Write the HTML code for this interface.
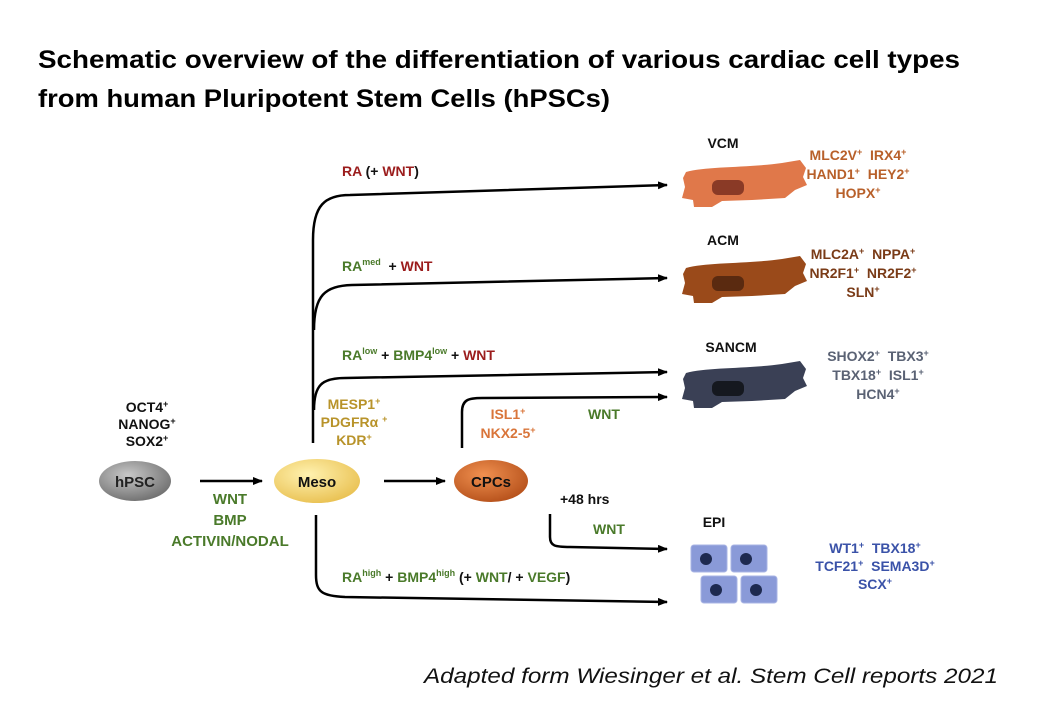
<!DOCTYPE html>
<html><head><meta charset="utf-8"><style>
html,body{margin:0;padding:0;background:#fff;}
svg{display:block;font-family:"Liberation Sans",Arial,sans-serif;font-weight:bold;}
</style></head><body>
<svg width="1058" height="720" viewBox="0 0 1058 720" xmlns="http://www.w3.org/2000/svg">
<defs>
<marker id="ar" markerWidth="10" markerHeight="8" refX="9" refY="4" orient="auto" markerUnits="userSpaceOnUse"><path d="M0,0 L10,4 L0,8 Z" fill="#000"/></marker>
<path id="cell" d="M4,12 C25,6 65,8 100,3 L118,0 L124,8 L121,17 L125,25 L113,30 L103,38 L70,40 L40,41 L30,47 L12,47 L11,40 L0,38 L3,27 L1,18 Z"/>
<radialGradient id="gg" cx="40%" cy="35%" r="70%"><stop offset="0" stop-color="#c8c8c8"/><stop offset="1" stop-color="#6e6e6e"/></radialGradient>
<radialGradient id="gy" cx="40%" cy="35%" r="70%"><stop offset="0" stop-color="#fff2b0"/><stop offset="1" stop-color="#e9c050"/></radialGradient>
<radialGradient id="go" cx="40%" cy="35%" r="70%"><stop offset="0" stop-color="#f09050"/><stop offset="1" stop-color="#b5501a"/></radialGradient>
</defs>
<text x="38" y="68" font-size="25" textLength="922" lengthAdjust="spacingAndGlyphs">Schematic overview of the differentiation of various cardiac cell types</text>
<text x="38" y="107" font-size="25" textLength="572" lengthAdjust="spacingAndGlyphs">from human Pluripotent Stem Cells (hPSCs)</text>

<g fill="none" stroke="#000" stroke-width="2.5">
<path d="M200,481 L262,481" marker-end="url(#ar)"/>
<path d="M384,481 L445,481" marker-end="url(#ar)"/>
<path d="M313,443 L313,240 C313,205 325,195 350,195 L667,185" marker-end="url(#ar)"/>
<path d="M314,330 C314,295 325,286 352,285 L667,278" marker-end="url(#ar)"/>
<path d="M314,410 C314,385 322,378 345,378 L667,372" marker-end="url(#ar)"/>
<path d="M462,448 L462,412 C462,400 468,398 482,398 L667,397" marker-end="url(#ar)"/>
<path d="M316,515 L316,575 C316,592 322,596 345,597 L667,602" marker-end="url(#ar)"/>
<path d="M550,514 L550,537 C550,546 555,547 570,547 L667,549" marker-end="url(#ar)"/>
</g>

<ellipse cx="135" cy="481" rx="36" ry="20" fill="url(#gg)"/>
<text x="135" y="487" font-size="15" text-anchor="middle" fill="#222">hPSC</text>
<ellipse cx="317" cy="481" rx="43" ry="22" fill="url(#gy)"/>
<text x="317" y="487" font-size="15" text-anchor="middle" fill="#111">Meso</text>
<ellipse cx="491" cy="481" rx="37" ry="21" fill="url(#go)"/>
<text x="491" y="487" font-size="15" text-anchor="middle" fill="#111">CPCs</text>

<g font-size="14" text-anchor="middle">
<text x="147" y="412" fill="#111">OCT4<tspan font-size="9" dy="-5">+</tspan></text>
<text x="147" y="429" fill="#111">NANOG<tspan font-size="9" dy="-5">+</tspan></text>
<text x="147" y="446" fill="#111">SOX2<tspan font-size="9" dy="-5">+</tspan></text>
<text x="230" y="504" fill="#4a7a2a" font-size="15">WNT</text>
<text x="230" y="525" fill="#4a7a2a" font-size="15">BMP</text>
<text x="230" y="546" fill="#4a7a2a" font-size="15">ACTIVIN/NODAL</text>
<text x="354" y="409" fill="#b8932a">MESP1<tspan font-size="9" dy="-5">+</tspan></text>
<text x="354" y="427" fill="#b8932a">PDGFRα&#160;<tspan font-size="9" dy="-5">+</tspan></text>
<text x="354" y="445" fill="#b8932a">KDR<tspan font-size="9" dy="-5">+</tspan></text>
<text x="508" y="419" fill="#d9753a">ISL1<tspan font-size="9" dy="-5">+</tspan></text>
<text x="508" y="438" fill="#d9753a">NKX2-5<tspan font-size="9" dy="-5">+</tspan></text>
</g>
<g font-size="14">
<text x="342" y="176" fill="#9b1c1c">RA <tspan fill="#111">(+ </tspan>WNT<tspan fill="#111">)</tspan></text>
<text x="342" y="271" fill="#4a7a2a">RA<tspan font-size="9" dy="-6">med</tspan><tspan fill="#111" dy="6">&#160;&#160;+ </tspan><tspan fill="#9b1c1c">WNT</tspan></text>
<text x="342" y="360" fill="#4a7a2a">RA<tspan font-size="9" dy="-6">low</tspan><tspan fill="#111" dy="6"> + </tspan>BMP4<tspan font-size="9" dy="-6">low</tspan><tspan fill="#111" dy="6"> + </tspan><tspan fill="#9b1c1c">WNT</tspan></text>
<text x="588" y="419" fill="#4a7a2a">WNT</text>
<text x="560" y="504" fill="#111">+48 hrs</text>
<text x="593" y="534" fill="#4a7a2a">WNT</text>
<text x="342" y="582" fill="#4a7a2a">RA<tspan font-size="9" dy="-6">high</tspan><tspan fill="#111" dy="6"> + </tspan>BMP4<tspan font-size="9" dy="-6">high</tspan><tspan fill="#111" dy="6"> (+ </tspan>WNT<tspan fill="#111">/ + </tspan>VEGF<tspan fill="#111">)</tspan></text>
</g>

<g font-size="14" text-anchor="middle" fill="#111">
<text x="723" y="148">VCM</text>
<text x="723" y="245">ACM</text>
<text x="731" y="352">SANCM</text>
<text x="714" y="527">EPI</text>
</g>
<use href="#cell" transform="translate(682,160)" fill="#e0784a"/>
<rect x="712" y="180" width="32" height="15" rx="6" fill="#8a3a26"/>
<use href="#cell" transform="translate(682,256)" fill="#9a4a1a"/>
<rect x="712" y="276" width="32" height="15" rx="6" fill="#5a2a10"/>
<use href="#cell" transform="translate(682,361)" fill="#3a4055"/>
<rect x="712" y="381" width="32" height="15" rx="6" fill="#15181f"/>

<g fill="#8a9ad8" stroke="#a8b4e4" stroke-width="1">
<rect x="691" y="545" width="36" height="27" rx="3"/>
<rect x="731" y="545" width="36" height="27" rx="3"/>
<rect x="701" y="576" width="36" height="27" rx="3"/>
<rect x="741" y="576" width="36" height="27" rx="3"/>
</g>
<g fill="#1e2a50">
<ellipse cx="706" cy="559" rx="6" ry="6"/><ellipse cx="746" cy="559" rx="6" ry="6"/>
<ellipse cx="716" cy="590" rx="6" ry="6"/><ellipse cx="756" cy="590" rx="6" ry="6"/>
</g>

<g font-size="14" text-anchor="middle">
<g fill="#b8602a">
<text x="858" y="160">MLC2V<tspan font-size="9" dy="-5">+</tspan><tspan dy="5">&#160;&#160;IRX4</tspan><tspan font-size="9" dy="-5">+</tspan></text>
<text x="858" y="179">HAND1<tspan font-size="9" dy="-5">+</tspan><tspan dy="5">&#160;&#160;HEY2</tspan><tspan font-size="9" dy="-5">+</tspan></text>
<text x="858" y="198">HOPX<tspan font-size="9" dy="-5">+</tspan></text>
</g>
<g fill="#7a3b17">
<text x="863" y="259">MLC2A<tspan font-size="9" dy="-5">+</tspan><tspan dy="5">&#160;&#160;NPPA</tspan><tspan font-size="9" dy="-5">+</tspan></text>
<text x="863" y="278">NR2F1<tspan font-size="9" dy="-5">+</tspan><tspan dy="5">&#160;&#160;NR2F2</tspan><tspan font-size="9" dy="-5">+</tspan></text>
<text x="863" y="297">SLN<tspan font-size="9" dy="-5">+</tspan></text>
</g>
<g fill="#5a6274">
<text x="878" y="361">SHOX2<tspan font-size="9" dy="-5">+</tspan><tspan dy="5">&#160;&#160;TBX3</tspan><tspan font-size="9" dy="-5">+</tspan></text>
<text x="878" y="380">TBX18<tspan font-size="9" dy="-5">+</tspan><tspan dy="5">&#160;&#160;ISL1</tspan><tspan font-size="9" dy="-5">+</tspan></text>
<text x="878" y="399">HCN4<tspan font-size="9" dy="-5">+</tspan></text>
</g>
<g fill="#3a52a8">
<text x="875" y="553">WT1<tspan font-size="9" dy="-5">+</tspan><tspan dy="5">&#160;&#160;TBX18</tspan><tspan font-size="9" dy="-5">+</tspan></text>
<text x="875" y="571">TCF21<tspan font-size="9" dy="-5">+</tspan><tspan dy="5">&#160;&#160;SEMA3D</tspan><tspan font-size="9" dy="-5">+</tspan></text>
<text x="875" y="589">SCX<tspan font-size="9" dy="-5">+</tspan></text>
</g>
</g>

<text x="998" y="683" font-size="21" font-style="italic" font-weight="normal" text-anchor="end" fill="#111" textLength="574" lengthAdjust="spacingAndGlyphs">Adapted form Wiesinger et al. Stem Cell reports 2021</text>
</svg>
</body></html>
